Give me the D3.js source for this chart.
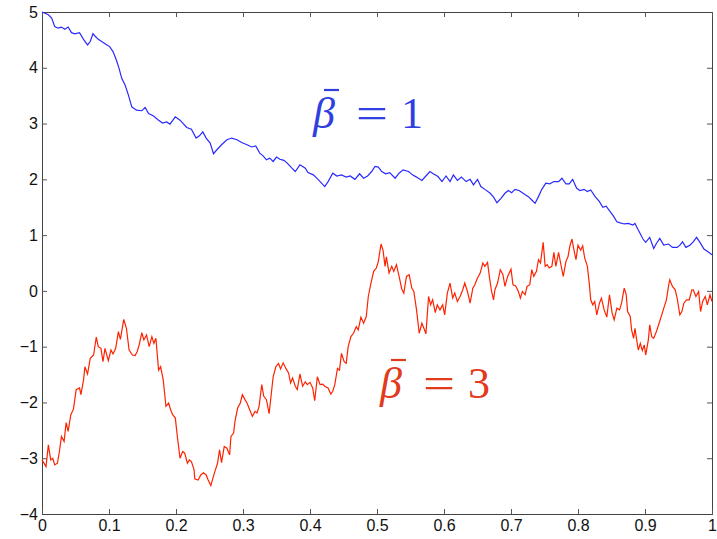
<!DOCTYPE html>
<html>
<head>
<meta charset="utf-8">
<script src="https://cdn.jsdelivr.net/npm/d3@7"></script>
<style>
  body { margin: 0; background: #fff; }
</style>
</head>
<body>
<div id="chartArea"></div>
<script>
// sample paths (t, value)
var blueX = [0,.0095,.0144,.019,.024,.029,.034,.039,.044,.049,.056,.062,.068,.072,.076,.079,.084,.089,.097,.101,.106,.111,.115,.119,.124,.129,.134,.141,.149,.154,.159,.166,.174,.180,.186,.191,.199,.206,.216,.223,.230,.235,.240,.245,.251,.256,.261,.268,.276,.283,.291,.298,.306,.313,.319,.325,.330,.335,.340,.345,.350,.355,.361,.366,.373,.378,.385,.393,.397,.405,.412,.422,.427,.434,.440,.447,.454,.460,.467,.474,.480,.486,.492,.497,.502,.507,.513,.519,.527,.533,.539,.547,.553,.559,.567,.573,.579,.584,.591,.597,.603,.609,.614,.620,.626,.633,.639,.644,.650,.655,.661,.669,.674,.679,.685,.691,.696,.701,.706,.712,.718,.726,.731,.736,.741,.746,.752,.758,.764,.771,.776,.782,.787,.792,.798,.803,.809,.814,.819,.825,.832,.837,.842,.848,.853,.858,.863,.869,.875,.882,.885,.890,.897,.901,.907,.913,.917,.922,.928,.935,.941,.948,.952,.956,.961,.967,.972,.977,.982,.988,.994,1];
var blueY = [5.00,4.95,4.89,4.74,4.71,4.73,4.69,4.73,4.63,4.61,4.63,4.51,4.41,4.47,4.61,4.57,4.51,4.47,4.41,4.38,4.29,4.14,3.99,3.81,3.69,3.51,3.30,3.24,3.23,3.29,3.18,3.14,3.06,3.01,3.03,2.99,3.12,3.06,2.93,2.90,2.74,2.78,2.85,2.74,2.65,2.46,2.53,2.62,2.71,2.74,2.71,2.66,2.62,2.58,2.60,2.47,2.42,2.35,2.38,2.32,2.40,2.36,2.34,2.29,2.20,2.14,2.26,2.20,2.12,2.08,2.00,1.87,1.96,2.11,2.06,2.08,2.04,2.06,2.00,2.10,2.02,2.06,2.14,2.23,2.22,2.14,2.10,2.12,2.02,2.11,2.17,2.14,2.08,2.04,1.98,2.06,2.14,2.10,2.05,1.96,2.06,1.96,2.08,1.98,2.04,1.96,2.00,1.90,2.00,1.87,1.82,1.75,1.68,1.58,1.66,1.75,1.80,1.76,1.82,1.80,1.75,1.69,1.63,1.57,1.69,1.82,1.93,1.92,1.96,1.96,2.02,1.92,1.92,2.00,1.84,1.80,1.82,1.78,1.81,1.70,1.60,1.50,1.52,1.42,1.34,1.24,1.22,1.20,1.21,1.18,1.21,1.09,0.93,0.87,0.96,0.76,0.85,0.94,0.82,0.84,0.78,0.78,0.82,0.88,0.78,0.82,0.88,0.96,0.87,0.75,0.70,0.65];

var redX = [0,.006,.0095,.013,.016,.019,.023,.026,.029,.033,.036,.039,.043,.047,.051,.056,.058,.062,.064,.068,.072,.077,.081,.084,.088,.091,.094,.099,.103,.106,.110,.114,.117,.122,.126,.130,.135,.139,.142,.145,.149,.152,.156,.160,.164,.167,.170,.174,.177,.181,.185,.189,.192,.195,.199,.202,.206,.210,.213,.217,.220,.223,.227,.228,.233,.237,.241,.245,.248,.252,.255,.258,.262,.265,.268,.272,.276,.280,.282,.286,.288,.292,.296,.299,.303,.306,.310,.314,.318,.321,.324,.328,.331,.335,.339,.345,.349,.353,.356,.360,.364,.368,.371,.374,.378,.381,.385,.389,.393,.396,.400,.404,.407,.411,.415,.419,.422,.427,.431,.434,.437,.441,.444,.447,.451,.454,.457,.461,.465,.469,.472,.476,.480,.484,.487,.491,.495,.499,.502,.506,.509,.512,.514,.518,.522,.525,.529,.533,.537,.540,.544,.548,.552,.555,.559,.563,.567,.570,.573,.577,.580,.583,.587,.590,.594,.598,.601,.605,.609,.613,.616,.620,.624,.628,.631,.635,.639,.643,.646,.650,.654,.658,.661,.665,.668,.671,.674,.676,.680,.684,.688,.691,.695,.700,.703,.707,.711,.714,.717,.721,.724,.728,.731,.734,.738,.741,.744,.748,.751,.754,.757,.761,.764,.767,.771,.774,.778,.782,.785,.788,.791,.794,.797,.800,.804,.807,.810,.814,.817,.819,.822,.825,.828,.832,.835,.839,.843,.847,.851,.854,.858,.862,.865,.869,.872,.874,.878,.880,.883,.885,.888,.890,.893,.896,.899,.901,.905,.907,.910,.913,.917,.921,.925,.928,.932,.935,.937,.941,.945,.948,.952,.955,.958,.962,.966,.970,.972,.976,.980,.983,.986,.990,.993,.997,1];
var redY = [-3.03,-3.15,-2.76,-3.03,-3.00,-3.12,-3.09,-2.88,-2.61,-2.70,-2.36,-2.52,-2.22,-2.12,-1.77,-1.74,-1.86,-1.60,-1.36,-1.49,-1.21,-1.15,-0.83,-1.00,-1.03,-1.27,-1.03,-1.25,-1.06,-1.13,-1.03,-0.73,-0.87,-0.51,-0.67,-1.06,-1.15,-1.16,-1.09,-0.97,-0.75,-0.88,-0.79,-1.00,-0.82,-0.94,-0.85,-1.42,-1.36,-1.60,-2.07,-2.01,-2.13,-2.22,-2.28,-2.61,-3.00,-2.88,-2.91,-3.09,-3.03,-3.06,-3.21,-3.37,-3.39,-3.30,-3.26,-3.30,-3.39,-3.49,-3.36,-3.24,-3.09,-2.85,-3.08,-2.79,-2.82,-2.94,-2.61,-2.55,-2.34,-2.10,-2.01,-1.86,-1.95,-2.01,-2.13,-2.25,-2.16,-2.19,-2.07,-1.68,-1.89,-1.95,-2.20,-1.54,-1.36,-1.30,-1.40,-1.29,-1.39,-1.47,-1.65,-1.56,-1.71,-1.77,-1.49,-1.71,-1.63,-1.68,-1.64,-1.74,-1.97,-1.54,-1.68,-1.67,-1.71,-1.74,-1.85,-1.80,-1.68,-1.39,-1.42,-1.12,-1.27,-1.30,-1.00,-0.82,-0.76,-0.64,-0.70,-0.47,-0.58,-0.46,-0.10,0.14,0.35,0.41,0.53,0.84,0.73,0.44,0.61,0.32,0.44,0.35,0.47,0.26,0.03,-0.04,0.26,0.29,0.05,-0.01,-0.34,-0.76,-0.58,-0.67,-0.77,-0.10,-0.25,-0.16,-0.39,-0.25,-0.34,-0.25,-0.43,-0.04,0.14,-0.13,-0.04,-0.19,-0.10,0.02,0.14,-0.01,-0.22,0.05,0.11,0.23,0.32,0.50,0.44,0.51,0.23,-0.01,-0.16,0.02,0.14,0.38,0.29,0.08,0.26,0.39,0.11,0.09,-0.01,-0.13,-0.01,-0.07,0.08,0.11,0.38,0.26,0.35,0.56,0.50,0.87,0.44,0.47,0.41,0.44,0.69,0.44,0.69,0.50,0.26,0.53,0.61,0.81,0.93,0.73,0.56,0.82,0.73,0.81,0.59,0.44,0.11,-0.16,-0.25,-0.19,-0.43,-0.22,-0.13,-0.34,-0.47,-0.07,-0.40,-0.52,-0.31,-0.34,-0.22,0.05,-0.07,-0.37,-0.46,-0.70,-0.85,-0.67,-0.91,-1.06,-0.94,-1.07,-0.97,-1.15,-0.88,-0.61,-0.82,-0.85,-0.73,-0.58,-0.43,-0.31,-0.16,0.08,0.20,0.08,0.02,-0.13,-0.43,-0.37,-0.22,-0.16,-0.16,0.02,0.02,-0.10,-0.01,-0.37,-0.19,-0.10,-0.25,-0.07,-0.19];

var xTicks = [0,0.1,0.2,0.3,0.4,0.5,0.6,0.7,0.8,0.9,1];
var yTicks = [-4,-3,-2,-1,0,1,2,3,4,5];

var width = 717, height = 539;
var margin = {top: 12, right: 5, bottom: 25, left: 42};

var xscale = d3.scaleLinear().domain([0,1]).range([margin.left, width - margin.right]);
var yscale = d3.scaleLinear().domain([-4,5]).range([height - margin.bottom, margin.top]);

var svg = d3.select('#chartArea').append('svg')
    .attr('width', width)
    .attr('height', height);

// matlab style box with ticks pointing inwards
var fmtY = function(d){ return d < 0 ? '\u2212' + Math.abs(d) : d; };
svg.append('g')
    .attr('transform', 'translate(' + margin.left + ',0)')
    .call(d3.axisLeft(yscale).tickValues(yTicks).tickSize(-5).tickPadding(4).tickFormat(fmtY));
svg.append('g')
    .attr('transform', 'translate(' + (width - margin.right) + ',0)')
    .call(d3.axisRight(yscale).tickValues(yTicks).tickSize(-5).tickFormat(''));
svg.append('g')
    .attr('transform', 'translate(0,' + (height - margin.bottom) + ')')
    .call(d3.axisBottom(xscale).tickValues(xTicks).tickSize(-5).tickPadding(6).tickFormat(d3.format('')));
svg.append('g')
    .attr('transform', 'translate(0,' + margin.top + ')')
    .call(d3.axisTop(xscale).tickValues(xTicks).tickSize(-5).tickFormat(''));
svg.selectAll('.domain').attr('stroke', '#444');
svg.selectAll('.tick line').attr('stroke', '#555');
svg.selectAll('.tick text')
    .style('font-family', 'Arial, "Liberation Sans", sans-serif')
    .style('font-size', '16px')
    .attr('fill', '#111');

var line = d3.line()
    .x(function(d){ return xscale(d[0]); })
    .y(function(d){ return yscale(d[1]); });

svg.append('path')
    .datum(d3.zip(blueX, blueY))
    .attr('d', line)
    .attr('fill', 'none')
    .attr('stroke', '#2a2aff')
    .attr('stroke-width', 1.2);

svg.append('path')
    .datum(d3.zip(redX, redY))
    .attr('d', line)
    .attr('fill', 'none')
    .attr('stroke', '#ff2200')
    .attr('stroke-width', 1.2);

// beta-bar labels
function betaLabel(x, y, num, col) {
    var g = svg.append('g').attr('fill', col)
        .style('font-family', '"Times New Roman", "Liberation Serif", serif')
        .style('font-size', '44px');
    g.append('text').attr('x', x).attr('y', y).style('font-style', 'italic').text('\u03b2');
    g.append('line')
        .attr('x1', x + 11).attr('x2', x + 26)
        .attr('y1', y - 38).attr('y2', y - 38)
        .attr('stroke', col).attr('stroke-width', 2.2);
    g.append('text').attr('x', x + 43).attr('y', y)
        .attr('textLength', 32).attr('lengthAdjust', 'spacingAndGlyphs').text('=');
    g.append('text').attr('x', x + 88).attr('y', y).text(num);
}
betaLabel(313, 128, '1', '#3040e0');
betaLabel(380, 398, '3', '#e23a1c');
</script>
</body>
</html>
